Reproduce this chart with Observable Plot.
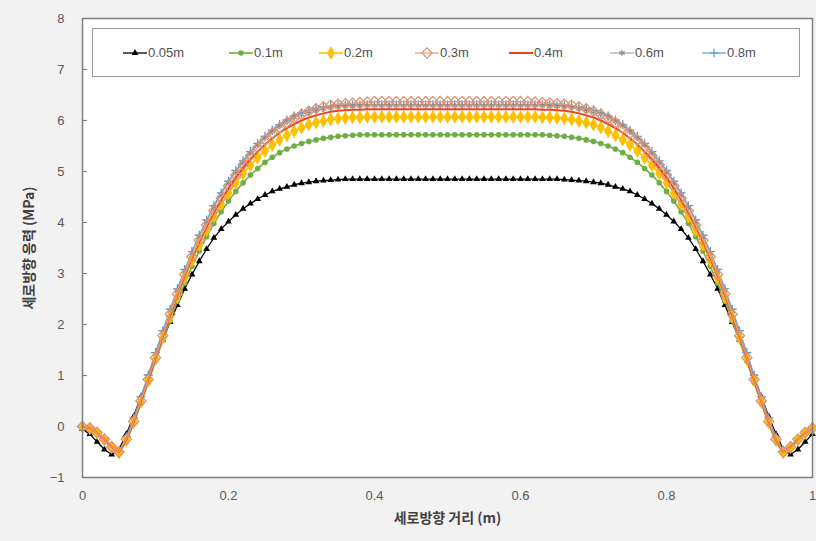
<!DOCTYPE html>
<html><head><meta charset="utf-8">
<script src="https://cdn.jsdelivr.net/npm/d3@7"></script>
<script src="https://cdn.jsdelivr.net/npm/@observablehq/plot@0.6"></script>
<style>
body{margin:0;background:#f2f2f2;}
#wrap{position:relative;width:816px;height:541px;overflow:hidden;}
#legend{position:absolute;left:92px;top:28px;width:706px;height:47px;background:#fff;border:1px solid #9a9a9a;}
.item{position:absolute;top:0;height:47px;display:flex;align-items:center;font:13px "Liberation Sans",Arial,sans-serif;color:#505050;}
.item svg{margin-right:1px;}
</style></head><body>
<div id="wrap"><div id="chart"></div><div id="legend"></div></div>
<script>
const xs = [0,0.01,0.02,0.03,0.04,0.05,0.06,0.07,0.08,0.09,
0.1,0.11,0.12,0.13,0.14,0.15,0.16,0.17,0.18,0.19,
0.2,0.21,0.22,0.23,0.24,0.25,0.26,0.27,0.28,0.29,
0.3,0.31,0.32,0.33,0.34,0.35,0.36,0.37,0.38,0.39,
0.4,0.41,0.42,0.43,0.44,0.45,0.46,0.47,0.48,0.49,
0.5,0.51,0.52,0.53,0.54,0.55,0.56,0.57,0.58,0.59,
0.6,0.61,0.62,0.63,0.64,0.65,0.66,0.67,0.68,0.69,
0.7,0.71,0.72,0.73,0.74,0.75,0.76,0.77,0.78,0.79,
0.8,0.81,0.82,0.83,0.84,0.85,0.86,0.87,0.88,0.89,
0.9,0.91,0.92,0.93,0.94,0.95,0.96,0.97,0.98,0.99,1];

const s005 = [-0.05,-0.15,-0.30,-0.45,-0.55,-0.45,-0.15,0.20,0.58,0.96,
1.34,1.70,2.05,2.38,2.70,2.98,3.24,3.48,3.70,3.87,
4.02,4.15,4.27,4.37,4.46,4.54,4.61,4.66,4.70,4.74,
4.77,4.79,4.81,4.82,4.83,4.84,4.85,4.85,4.85,4.85,
4.85,4.85,4.85,4.85,4.85,4.85,4.85,4.85,4.85,4.85,
4.85,4.85,4.85,4.85,4.85,4.85,4.85,4.85,4.85,4.85,
4.85,4.85,4.85,4.85,4.85,4.85,4.84,4.83,4.82,4.81,
4.79,4.77,4.74,4.70,4.66,4.61,4.54,4.46,4.37,4.27,
4.15,4.02,3.87,3.70,3.48,3.24,2.98,2.70,2.38,2.05,
1.70,1.34,0.96,0.58,0.20,-0.15,-0.45,-0.55,-0.45,-0.30,-0.15];

const s01 = [0.00,-0.05,-0.15,-0.28,-0.42,-0.52,-0.30,0.05,0.45,0.86,
1.28,1.69,2.08,2.46,2.81,3.14,3.44,3.72,3.98,4.21,
4.42,4.61,4.78,4.93,5.06,5.18,5.28,5.37,5.44,5.50,
5.55,5.59,5.62,5.65,5.67,5.69,5.70,5.71,5.72,5.72,
5.72,5.72,5.72,5.72,5.72,5.72,5.72,5.72,5.72,5.72,
5.72,5.72,5.72,5.72,5.72,5.72,5.72,5.72,5.72,5.72,
5.72,5.72,5.72,5.72,5.71,5.70,5.69,5.67,5.65,5.62,
5.59,5.55,5.50,5.44,5.37,5.28,5.18,5.06,4.93,4.78,
4.61,4.42,4.21,3.98,3.72,3.44,3.14,2.81,2.46,2.08,
1.69,1.28,0.86,0.45,0.05,-0.30,-0.52,-0.42,-0.28,-0.15,-0.05];

const s02 = [0.00,-0.04,-0.13,-0.26,-0.41,-0.51,-0.27,0.08,0.48,0.90,
1.32,1.74,2.15,2.54,2.91,3.25,3.56,3.85,4.12,4.36,
4.58,4.78,4.96,5.12,5.27,5.40,5.52,5.62,5.71,5.79,
5.86,5.92,5.96,5.99,6.02,6.04,6.05,6.06,6.06,6.07,
6.07,6.07,6.07,6.07,6.07,6.07,6.07,6.07,6.07,6.07,
6.07,6.07,6.07,6.07,6.07,6.07,6.07,6.07,6.07,6.07,
6.07,6.07,6.07,6.06,6.06,6.05,6.04,6.02,5.99,5.96,
5.92,5.86,5.79,5.71,5.62,5.52,5.40,5.27,5.12,4.96,
4.78,4.58,4.36,4.12,3.85,3.56,3.25,2.91,2.54,2.15,
1.74,1.32,0.90,0.48,0.08,-0.27,-0.51,-0.41,-0.26,-0.13,-0.04];

const s03 = [0.00,-0.03,-0.12,-0.25,-0.40,-0.50,-0.25,0.10,0.50,0.92,
1.35,1.78,2.20,2.60,2.98,3.33,3.65,3.95,4.23,4.48,
4.72,4.93,5.13,5.31,5.47,5.62,5.75,5.86,5.96,6.05,
6.12,6.18,6.23,6.27,6.30,6.32,6.33,6.34,6.35,6.36,
6.37,6.37,6.37,6.37,6.37,6.37,6.37,6.37,6.37,6.37,
6.37,6.37,6.37,6.37,6.37,6.37,6.37,6.37,6.37,6.37,
6.37,6.37,6.36,6.35,6.34,6.33,6.32,6.30,6.27,6.23,
6.18,6.12,6.05,5.96,5.86,5.75,5.62,5.47,5.31,5.13,
4.93,4.72,4.48,4.23,3.95,3.65,3.33,2.98,2.60,2.20,
1.78,1.35,0.92,0.50,0.10,-0.25,-0.50,-0.40,-0.25,-0.12,-0.03];

const s04 = [0.00,-0.03,-0.12,-0.25,-0.40,-0.50,-0.26,0.09,0.49,0.91,
1.34,1.76,2.18,2.58,2.96,3.30,3.62,3.92,4.19,4.44,
4.67,4.88,5.07,5.24,5.39,5.53,5.65,5.76,5.85,5.93,
6.00,6.06,6.10,6.14,6.17,6.19,6.20,6.21,6.21,6.22,
6.22,6.22,6.22,6.22,6.22,6.22,6.22,6.22,6.22,6.22,
6.22,6.22,6.22,6.22,6.22,6.22,6.22,6.22,6.22,6.22,
6.22,6.22,6.22,6.21,6.21,6.20,6.19,6.17,6.14,6.10,
6.06,6.00,5.93,5.85,5.76,5.65,5.53,5.39,5.24,5.07,
4.88,4.67,4.44,4.19,3.92,3.62,3.30,2.96,2.58,2.18,
1.76,1.34,0.91,0.49,0.09,-0.26,-0.50,-0.40,-0.25,-0.12,-0.03];

const s06 = [0.00,-0.03,-0.11,-0.24,-0.39,-0.49,-0.22,0.14,0.55,0.98,
1.42,1.85,2.27,2.67,3.05,3.40,3.72,4.02,4.30,4.55,
4.78,4.99,5.18,5.36,5.52,5.66,5.78,5.89,5.98,6.06,
6.12,6.17,6.21,6.24,6.26,6.27,6.28,6.28,6.29,6.29,
6.29,6.29,6.29,6.29,6.29,6.29,6.29,6.29,6.29,6.29,
6.29,6.29,6.29,6.29,6.29,6.29,6.29,6.29,6.29,6.29,
6.29,6.29,6.29,6.29,6.28,6.28,6.27,6.26,6.24,6.21,
6.17,6.12,6.06,5.98,5.89,5.78,5.66,5.52,5.36,5.18,
4.99,4.78,4.55,4.30,4.02,3.72,3.40,3.05,2.67,2.27,
1.85,1.42,0.98,0.55,0.14,-0.22,-0.49,-0.39,-0.24,-0.11,-0.03];

const s08 = [0.00,-0.02,-0.10,-0.23,-0.38,-0.48,-0.20,0.17,0.58,1.01,
1.45,1.88,2.30,2.70,3.08,3.43,3.75,4.05,4.33,4.58,
4.81,5.02,5.21,5.39,5.55,5.69,5.81,5.92,6.01,6.09,
6.15,6.20,6.24,6.27,6.29,6.30,6.30,6.31,6.31,6.31,
6.31,6.31,6.31,6.31,6.31,6.31,6.31,6.31,6.31,6.31,
6.31,6.31,6.31,6.31,6.31,6.31,6.31,6.31,6.31,6.31,
6.31,6.31,6.31,6.31,6.31,6.30,6.30,6.29,6.27,6.24,
6.20,6.15,6.09,6.01,5.92,5.81,5.69,5.55,5.39,5.21,
5.02,4.81,4.58,4.33,4.05,3.75,3.43,3.08,2.70,2.30,
1.88,1.45,1.01,0.58,0.17,-0.20,-0.48,-0.38,-0.23,-0.10,-0.02];

const seriesNames = ["0.05m","0.1m","0.2m","0.3m","0.4m","0.6m","0.8m"];
const seriesValues = [s005, s01, s02, s03, s04, s06, s08];
const xTicks = [0, 0.2, 0.4, 0.6, 0.8, 1];
const yTicks = [-1, 0, 1, 2, 3, 4, 5, 6, 7, 8];
const xTitle = "세로방향 거리 (m)";
const yTitle = "세로방향 응력 (MPa)";

// styles (not data)
const styles = {
  "0.05m": {stroke:"#000000", sw:1.3, symbol:"triangle", r:2.5, fill:"#000000", mstroke:"none"},
  "0.1m":  {stroke:"#70AD47", sw:1.6, symbol:"circle", r:2.8, fill:"#70AD47", mstroke:"none"},
  "0.2m":  {stroke:"#FFC000", sw:1.6, symbol:"diamond", r:4.2, fill:"#FFC000", mstroke:"none"},
  "0.3m":  {stroke:"#E6A07E", sw:1.2, symbol:"diamond2", r:4.6, fill:"none", mstroke:"#DC9272"},
  "0.4m":  {stroke:"#F2401E", sw:2, symbol:null},
  "0.6m":  {stroke:"#A5A5A5", sw:1.2, symbol:"asterisk", r:3, fill:"none", mstroke:"#8C8C8C"},
  "0.8m":  {stroke:"#5B9BD5", sw:1.2, symbol:"plus", r:3, fill:"none", mstroke:"#5B9BD5"}
};
const drawOrder = ["0.05m","0.1m","0.8m","0.6m","0.2m","0.4m","0.3m"];

const rows = seriesNames.flatMap((name, i) => seriesValues[i].map((y, j) => ({name, x: xs[j], y})));

const marks = [Plot.frame({fill:"#ffffff", stroke:"none"})];
marks.push(Plot.tickY(yTicks.filter(d => d > -1 && d < 8), {y: d => d, stroke:"#808080", strokeWidth:1.2, insetRight:725}));
for (const name of drawOrder) {
  const st = styles[name];
  const data = rows.filter(d => d.name === name);
  marks.push(Plot.line(data, {x:"x", y:"y", stroke: st.stroke, strokeWidth: st.sw}));
  if (st.symbol) {
    marks.push(Plot.dot(data, {x:"x", y:"y", symbol: st.symbol, r: st.r, fill: st.fill, stroke: st.mstroke, strokeWidth: 1.3}));
  }
}
marks.push(Plot.frame({stroke:"#7f7f7f", strokeWidth:1.5}));
marks.push(Plot.axisY({ticks: yTicks, tickSize:0, tickPadding:18, fontSize:13, fill:"#595959", fontFamily:"Liberation Sans, Arial, sans-serif", label:null}));
marks.push(Plot.axisX({ticks: xTicks, tickSize:0, tickPadding:13, fontSize:13, fill:"#595959", fontFamily:"Liberation Sans, Arial, sans-serif", label:null, tickFormat: d => String(d)}));
marks.push(Plot.text([yTitle], {text: d => d, frameAnchor:"left", textAnchor:"middle", dx:-53, rotate:-90, fontSize:14, fontWeight:"bold", fill:"#404040", fontFamily:"Noto Sans CJK KR, sans-serif"}));
marks.push(Plot.text([xTitle], {text: d => d, frameAnchor:"bottom", dy:45, fontSize:14, fontWeight:"bold", fill:"#404040", fontFamily:"Noto Sans CJK KR, sans-serif"}));

const chart = Plot.plot({
  width:816, height:541,
  marginLeft:82, marginRight:4, marginTop:18, marginBottom:64,
  x:{domain:[0,1]},
  y:{domain:[-1,8]},
  style:{background:"transparent", overflow:"visible"},
  marks
});
document.getElementById("chart").appendChild(chart);

// legend
const legend = document.getElementById("legend");
const itemLeft = [30, 136, 226, 322, 416, 517, 609];
const symMap = {triangle:d3.symbolTriangle, circle:d3.symbolCircle, diamond:d3.symbolDiamond, diamond2:d3.symbolDiamond2, asterisk:d3.symbolAsterisk, plus:d3.symbolPlus};
seriesNames.forEach((name, i) => {
  const st = styles[name];
  const div = document.createElement("div");
  div.className = "item";
  div.style.left = itemLeft[i] + "px";
  let sym = "";
  if (st.symbol) {
    const p = d3.symbol(symMap[st.symbol], Math.PI * st.r * st.r)();
    sym = `<path d="${p}" transform="translate(12,7)" fill="${st.fill}" stroke="${st.mstroke}" stroke-width="1.2"/>`;
  }
  div.innerHTML = `<svg width="24" height="14"><line x1="0" x2="24" y1="7" y2="7" stroke="${st.stroke}" stroke-width="${st.sw}"/>${sym}</svg><span>${name}</span>`;
  legend.appendChild(div);
});
</script></body></html>
